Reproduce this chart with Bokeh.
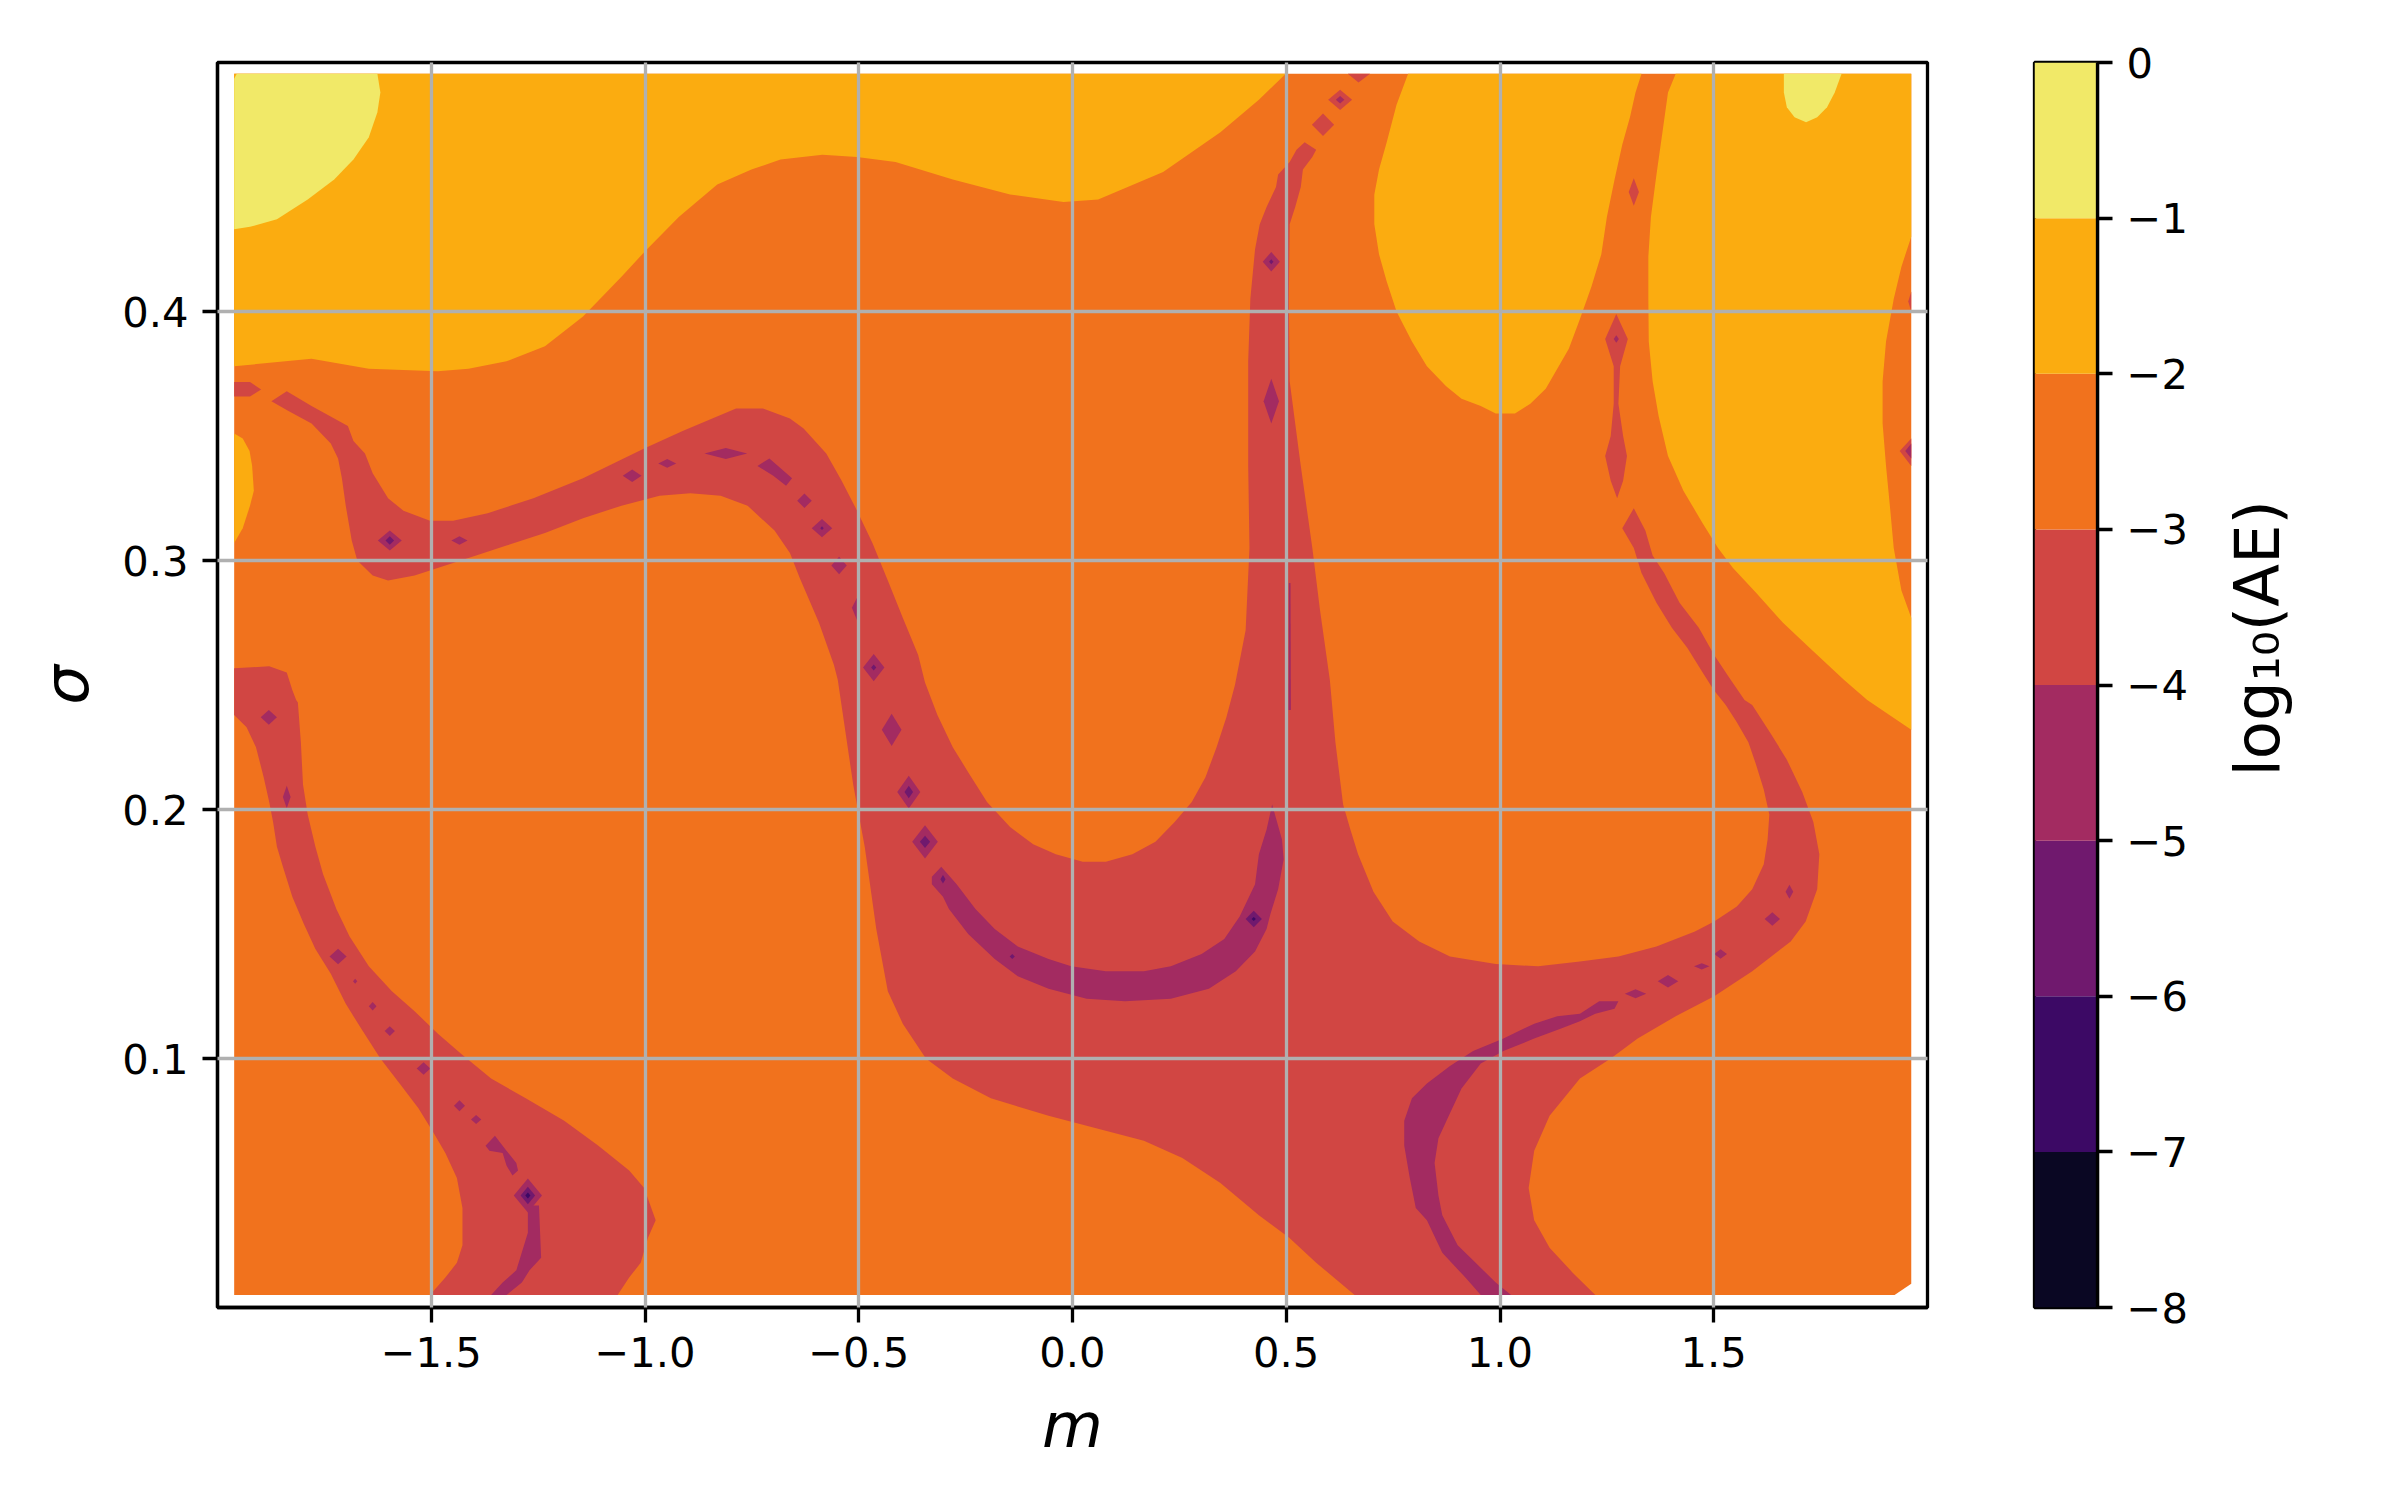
import math
from bokeh.plotting import figure
from bokeh.layouts import row
from bokeh.models import Range1d, FixedTicker, CustomJSTickFormatter
from bokeh.palettes import Inferno256
from bokeh.core.properties import value
from bokeh.embed import file_html
from bokeh.resources import INLINE

# ---------------- data ----------------
levels = [-8, -7, -6, -5, -4, -3, -2, -1, 0]
level_labels = ["\u22128", "\u22127", "\u22126", "\u22125", "\u22124", "\u22123", "\u22122", "\u22121", "0"]
x_ticks = [-1.5, -1.0, -0.5, 0.0, 0.5, 1.0, 1.5]
x_tick_labels = ["\u22121.5", "\u22121.0", "\u22120.5", "0.0", "0.5", "1.0", "1.5"]
y_ticks = [0.1, 0.2, 0.3, 0.4]
y_tick_labels = ["0.1", "0.2", "0.3", "0.4"]
x_label = "m"
y_label = "\u03c3"
cbar_label = "log\u2081\u2080(AE)"
x_limits = (-2.0, 2.0)
y_limits = (0.0, 0.5)

# contour regions of log10(AE) as (m, sigma) vertices
# band -3..-2 : sampled domain
domain = [(-1.961, 0.005), (1.923, 0.005), (1.962, 0.0095), (1.962, 0.4955), (-1.961, 0.4955)]

# band -2..-1
light_top_left = [(-1.961, 0.4955), (0.499, 0.4955), (0.436, 0.485), (0.346, 0.472), (0.212, 0.456),
                  (0.060, 0.445), (-0.021, 0.444), (-0.146, 0.447), (-0.280, 0.453), (-0.414, 0.460),
                  (-0.504, 0.462), (-0.585, 0.463), (-0.683, 0.461), (-0.751, 0.457), (-0.831, 0.451),
                  (-0.921, 0.438), (-1.001, 0.424), (-1.055, 0.414), (-1.145, 0.398), (-1.234, 0.386),
                  (-1.324, 0.380), (-1.413, 0.377), (-1.485, 0.376), (-1.646, 0.377), (-1.780, 0.381),
                  (-1.961, 0.378)]
light_left_edge = [(-1.961, 0.351), (-1.941, 0.349), (-1.925, 0.344), (-1.919, 0.338), (-1.915, 0.328),
                   (-1.924, 0.322), (-1.941, 0.313), (-1.961, 0.307)]
light_tongue = [(0.785, 0.4955), (0.758, 0.483), (0.735, 0.468), (0.717, 0.457), (0.706, 0.447),
                (0.706, 0.435), (0.717, 0.423), (0.735, 0.412), (0.758, 0.400), (0.794, 0.388),
                (0.829, 0.378), (0.874, 0.370), (0.910, 0.365), (0.955, 0.362), (0.990, 0.359),
                (1.035, 0.359), (1.071, 0.363), (1.107, 0.369), (1.134, 0.377), (1.161, 0.385),
                (1.187, 0.397), (1.214, 0.410), (1.237, 0.423), (1.250, 0.438), (1.268, 0.453),
                (1.286, 0.467), (1.304, 0.478), (1.317, 0.488), (1.331, 0.4955)]
light_right = [(1.411, 0.4955), (1.962, 0.4955), (1.962, 0.430), (1.939, 0.418), (1.921, 0.405),
               (1.903, 0.388), (1.895, 0.372), (1.895, 0.355), (1.903, 0.338), (1.912, 0.322),
               (1.921, 0.305), (1.939, 0.288), (1.962, 0.277), (1.962, 0.232), (1.859, 0.244),
               (1.805, 0.252), (1.724, 0.265), (1.662, 0.275), (1.599, 0.287), (1.545, 0.297),
               (1.510, 0.305), (1.474, 0.315), (1.429, 0.328), (1.393, 0.342), (1.371, 0.358),
               (1.357, 0.372), (1.348, 0.388), (1.347, 0.405), (1.347, 0.422), (1.353, 0.438),
               (1.366, 0.455), (1.380, 0.472), (1.393, 0.488)]

# band -1..0
yellow_top_left = [(-1.961, 0.4935), (-1.955, 0.4955), (-1.626, 0.4955), (-1.619, 0.488), (-1.626, 0.480),
                   (-1.646, 0.470), (-1.682, 0.461), (-1.727, 0.453), (-1.789, 0.445), (-1.861, 0.437),
                   (-1.924, 0.434), (-1.961, 0.433)]
yellow_top_right = [(1.664, 0.4955), (1.664, 0.488), (1.671, 0.482), (1.689, 0.478), (1.716, 0.476),
                    (1.742, 0.478), (1.765, 0.482), (1.783, 0.488), (1.799, 0.4955)]

# band -4..-3
red_main = [
    (-1.874, 0.364), (-1.838, 0.368), (-1.780, 0.362), (-1.695, 0.354), (-1.682, 0.348), (-1.655, 0.343),
    (-1.637, 0.335), (-1.601, 0.325), (-1.565, 0.320), (-1.503, 0.316), (-1.449, 0.316), (-1.368, 0.319),
    (-1.261, 0.325), (-1.145, 0.333), (-1.002, 0.345), (-0.912, 0.352), (-0.787, 0.361), (-0.724, 0.361),
    (-0.661, 0.357),
    (-0.629, 0.353), (-0.576, 0.343), (-0.540, 0.332), (-0.504, 0.320), (-0.468, 0.307), (-0.432, 0.292),
    (-0.397, 0.277), (-0.361, 0.262), (-0.345, 0.251),
    (-0.316, 0.238), (-0.280, 0.225), (-0.244, 0.215), (-0.200, 0.203), (-0.146, 0.193), (-0.092, 0.186),
    (-0.039, 0.182), (0.024, 0.179), (0.078, 0.179), (0.140, 0.182), (0.194, 0.187), (0.239, 0.195),
    (0.279, 0.203), (0.311, 0.213), (0.337, 0.225), (0.360, 0.237), (0.380, 0.250),
    (0.405, 0.272), (0.414, 0.305), (0.411, 0.338), (0.411, 0.380), (0.416, 0.405), (0.427, 0.425),
    (0.438, 0.435), (0.454, 0.442), (0.476, 0.450), (0.481, 0.455), (0.508, 0.460), (0.524, 0.465),
    (0.543, 0.468), (0.570, 0.465), (0.561, 0.462), (0.539, 0.457), (0.534, 0.450), (0.521, 0.442),
    (0.508, 0.435), (0.506, 0.405), (0.508, 0.372), (0.534, 0.338), (0.561, 0.305), (0.579, 0.280),
    (0.602, 0.252),
    (0.615, 0.227), (0.633, 0.202), (0.650, 0.192), (0.668, 0.182), (0.704, 0.167), (0.749, 0.155),
    (0.811, 0.147), (0.883, 0.141), (0.990, 0.138), (1.089, 0.137), (1.187, 0.139), (1.277, 0.141),
    (1.366, 0.145), (1.456, 0.151), (1.501, 0.155), (1.554, 0.161), (1.590, 0.168), (1.617, 0.178),
    (1.626, 0.188), (1.630, 0.198), (1.617, 0.208), (1.599, 0.218), (1.581, 0.227), (1.554, 0.235),
    (1.528, 0.242), (1.500, 0.248),
    (1.474, 0.255), (1.438, 0.265), (1.402, 0.273), (1.366, 0.283), (1.331, 0.295), (1.313, 0.305),
    (1.286, 0.313), (1.313, 0.321),
    (1.340, 0.312), (1.357, 0.302), (1.384, 0.295), (1.420, 0.283), (1.465, 0.273), (1.501, 0.262),
    (1.536, 0.253), (1.572, 0.244), (1.590, 0.242), (1.635, 0.230), (1.671, 0.220), (1.707, 0.207),
    (1.733, 0.195), (1.747, 0.182), (1.742, 0.168), (1.715, 0.155), (1.680, 0.147), (1.590, 0.135),
    (1.501, 0.125), (1.411, 0.117), (1.322, 0.108), (1.259, 0.100), (1.187, 0.092), (1.116, 0.077),
    (1.080, 0.063), (1.067, 0.048), (1.080, 0.035), (1.116, 0.024), (1.170, 0.014), (1.223, 0.005),
    (0.660, 0.005),
    (0.570, 0.018), (0.507, 0.028), (0.436, 0.037), (0.346, 0.050), (0.257, 0.060), (0.167, 0.067),
    (0.033, 0.073), (-0.056, 0.077), (-0.191, 0.084), (-0.280, 0.092), (-0.343, 0.100), (-0.397, 0.114),
    (-0.432, 0.127), (-0.459, 0.152), (-0.486, 0.185), (-0.513, 0.210), (-0.549, 0.252),
    (-0.558, 0.258), (-0.593, 0.275), (-0.638, 0.293),
    (-0.661, 0.303), (-0.697, 0.312), (-0.760, 0.322), (-0.823, 0.326), (-0.894, 0.327), (-0.966, 0.326),
    (-1.055, 0.322), (-1.145, 0.317), (-1.234, 0.311), (-1.324, 0.306), (-1.395, 0.302), (-1.485, 0.297),
    (-1.539, 0.294), (-1.601, 0.292), (-1.637, 0.294), (-1.673, 0.300), (-1.686, 0.308), (-1.700, 0.322),
    (-1.709, 0.333), (-1.718, 0.341), (-1.735, 0.347), (-1.780, 0.355), (-1.834, 0.360)]
red_left_stub = [(-1.961, 0.3717), (-1.924, 0.3717), (-1.898, 0.3687), (-1.924, 0.3659), (-1.961, 0.3659)]
red_bottom_left = [
    (-1.961, 0.2567), (-1.879, 0.2575), (-1.838, 0.255), (-1.825, 0.248), (-1.816, 0.244), (-1.812, 0.243),
    (-1.805, 0.227), (-1.800, 0.210), (-1.789, 0.198), (-1.771, 0.185), (-1.753, 0.174), (-1.722, 0.160),
    (-1.691, 0.149), (-1.646, 0.137), (-1.592, 0.127), (-1.539, 0.119), (-1.485, 0.110), (-1.431, 0.102),
    (-1.360, 0.092), (-1.279, 0.084), (-1.189, 0.075), (-1.109, 0.065), (-1.037, 0.055), (-1.002, 0.048),
    (-0.975, 0.035), (-0.993, 0.028), (-1.010, 0.018), (-1.037, 0.012), (-1.064, 0.005), (-1.503, 0.005),
    (-1.467, 0.012), (-1.440, 0.018), (-1.427, 0.025), (-1.427, 0.040), (-1.440, 0.052), (-1.467, 0.062),
    (-1.494, 0.070), (-1.530, 0.080), (-1.574, 0.090), (-1.619, 0.100), (-1.664, 0.112), (-1.700, 0.122),
    (-1.735, 0.134), (-1.771, 0.144), (-1.798, 0.154), (-1.825, 0.165), (-1.847, 0.177), (-1.861, 0.185),
    (-1.870, 0.195), (-1.879, 0.203), (-1.892, 0.213), (-1.910, 0.225), (-1.932, 0.233), (-1.961, 0.238)]
red_chain = [(1.272, 0.399), (1.299, 0.389), (1.281, 0.378), (1.277, 0.363), (1.288, 0.350), (1.297, 0.342),
             (1.288, 0.332), (1.274, 0.325), (1.259, 0.332), (1.246, 0.342), (1.259, 0.350), (1.266, 0.363),
             (1.266, 0.378), (1.246, 0.389)]
red_top_edge = [(0.644, 0.4955), (0.696, 0.4955), (0.669, 0.492)]
red_right_edge = [(1.962, 0.349), (1.935, 0.344), (1.962, 0.338)]
red_right_edge_small = [(1.962, 0.408), (1.955, 0.404), (1.962, 0.400)]
# isolated spots: centre m, centre sigma, half width, half height
red_spots = [(0.586, 0.475, 0.026, 0.0045), (0.626, 0.485, 0.028, 0.0041), (1.313, 0.448, 0.012, 0.0055)]

# band -5..-4
purple_u = [(-0.329, 0.173), (-0.307, 0.177), (-0.271, 0.170), (-0.227, 0.160), (-0.182, 0.152),
            (-0.128, 0.145), (-0.056, 0.140), (-0.003, 0.137), (0.078, 0.135), (0.167, 0.135),
            (0.230, 0.137), (0.302, 0.142), (0.355, 0.148), (0.391, 0.157), (0.427, 0.170),
            (0.436, 0.182), (0.454, 0.192), (0.467, 0.202), (0.490, 0.188), (0.494, 0.180),
            (0.481, 0.168), (0.463, 0.158), (0.454, 0.152), (0.427, 0.143), (0.382, 0.135),
            (0.319, 0.128), (0.230, 0.124), (0.123, 0.123), (0.033, 0.124), (-0.056, 0.128),
            (-0.128, 0.133), (-0.182, 0.140), (-0.244, 0.150), (-0.289, 0.160), (-0.303, 0.165),
            (-0.329, 0.170)]
purple_right = [(0.955, 0.005), (0.919, 0.012), (0.865, 0.022), (0.829, 0.035), (0.803, 0.040),
                (0.789, 0.052), (0.776, 0.065), (0.776, 0.075), (0.794, 0.084), (0.829, 0.090),
                (0.883, 0.097), (0.937, 0.103), (1.008, 0.108), (1.080, 0.114), (1.134, 0.117),
                (1.187, 0.118), (1.232, 0.123), (1.277, 0.123), (1.268, 0.120), (1.223, 0.118),
                (1.187, 0.115), (1.143, 0.112), (1.080, 0.108), (1.008, 0.103), (0.955, 0.098),
                (0.910, 0.088), (0.883, 0.078), (0.856, 0.068), (0.847, 0.058), (0.856, 0.045),
                (0.865, 0.037), (0.892, 0.028), (0.901, 0.025), (0.937, 0.019), (0.990, 0.010),
                (1.026, 0.005)]
purple_blob = [(-1.373, 0.065), (-1.351, 0.069), (-1.324, 0.063), (-1.301, 0.058), (-1.297, 0.055),
               (-1.310, 0.053), (-1.324, 0.057), (-1.333, 0.062), (-1.364, 0.063)]
purple_bottom = [(-1.274, 0.041), (-1.248, 0.041), (-1.243, 0.020), (-1.270, 0.015), (-1.288, 0.010),
                 (-1.324, 0.005), (-1.360, 0.005), (-1.333, 0.010), (-1.301, 0.015), (-1.292, 0.020),
                 (-1.274, 0.030)]
purple_line = [(0.506, 0.291), (0.510, 0.291), (0.511, 0.240), (0.505, 0.240)]
purple_long = [(-0.737, 0.338), (-0.709, 0.341), (-0.656, 0.333), (-0.670, 0.330), (-0.700, 0.334)]
purple_half = [(-0.516, 0.281), (-0.504, 0.285), (-0.504, 0.276)]
purple_right_edge = [(1.962, 0.347), (1.948, 0.344), (1.962, 0.341)]
purple_spots = [
    (-1.597, 0.308, 0.028, 0.0040), (-1.434, 0.308, 0.019, 0.0017), (-1.030, 0.334, 0.022, 0.0025),
    (-0.948, 0.339, 0.021, 0.0018), (-0.811, 0.343, 0.050, 0.0022), (-0.627, 0.324, 0.017, 0.0029),
    (-0.586, 0.313, 0.024, 0.0037), (-0.546, 0.298, 0.018, 0.0035), (-0.465, 0.257, 0.025, 0.0055),
    (-0.423, 0.232, 0.023, 0.0065), (-0.383, 0.207, 0.027, 0.0066), (-0.345, 0.187, 0.030, 0.0067),
    (0.465, 0.420, 0.020, 0.0039), (0.465, 0.364, 0.018, 0.0090), (0.626, 0.485, 0.010, 0.0015),
    (1.272, 0.389, 0.006, 0.0015),
    (-1.880, 0.237, 0.019, 0.0030), (-1.838, 0.205, 0.009, 0.0045), (-1.718, 0.141, 0.020, 0.0031),
    (-1.678, 0.131, 0.005, 0.0010), (-1.637, 0.121, 0.009, 0.0017), (-1.597, 0.111, 0.012, 0.0020),
    (-1.518, 0.096, 0.016, 0.0025), (-1.434, 0.081, 0.013, 0.0022), (-1.395, 0.0755, 0.012, 0.0018),
    (-1.274, 0.045, 0.033, 0.0068),
    (1.317, 0.126, 0.025, 0.0018), (1.393, 0.131, 0.024, 0.0025), (1.472, 0.137, 0.018, 0.0013),
    (1.516, 0.142, 0.015, 0.0019), (1.637, 0.156, 0.018, 0.0027), (1.677, 0.167, 0.009, 0.0028)]

# band -6..-5
dark_spots = [(-1.597, 0.308, 0.010, 0.0017), (-0.586, 0.313, 0.004, 0.0008), (-0.465, 0.257, 0.006, 0.0012),
              (0.465, 0.420, 0.005, 0.0010), (-0.383, 0.207, 0.010, 0.0025), (-0.345, 0.187, 0.012, 0.0025),
              (-0.303, 0.172, 0.006, 0.0017), (-0.141, 0.141, 0.006, 0.0010), (0.424, 0.156, 0.019, 0.0033),
              (-1.274, 0.045, 0.017, 0.0035)]
# band -7..-6
darkest_spots = [(-1.274, 0.045, 0.006, 0.0012), (0.424, 0.156, 0.005, 0.0008)]

# ---------------- build ----------------
band_colors = [Inferno256[int(((lo + hi) / 2 - levels[0]) / (levels[-1] - levels[0]) * 256)]
               for lo, hi in zip(levels[:-1], levels[1:])]


def spot(c):
    cx, cy, hw, hh = c
    return [(cx - hw, cy), (cx, cy + hh), (cx + hw, cy), (cx, cy - hh)]


layers = [
    (-3, [domain]),
    (-2, [light_top_left, light_left_edge, light_tongue, light_right]),
    (-1, [yellow_top_left, yellow_top_right]),
    (-4, [red_main, red_left_stub, red_bottom_left, red_chain, red_top_edge, red_right_edge,
          red_right_edge_small] + [spot(s) for s in red_spots]),
    (-5, [purple_u, purple_right, purple_blob, purple_bottom, purple_line, purple_long, purple_half,
          purple_right_edge] + [spot(s) for s in purple_spots]),
    (-6, [spot(s) for s in dark_spots]),
    (-7, [spot(s) for s in darkest_spots]),
]

FONT = "DejaVu Sans"
TICK_PX = "41.7px"
LABEL_PX = "62.5px"
LW = 3.3
H = 1492


def fmt(tvals, tlabels):
    return CustomJSTickFormatter(args=dict(tvals=tvals, tlabels=tlabels), code="""
        for (let i = 0; i < tvals.length; i++) {
            if (Math.abs(tvals[i] - tick) < 1e-9) { return tlabels[i]; }
        }
        return '';
    """)


def style_axis(ax):
    ax.major_tick_out = 15
    ax.major_tick_in = 0
    ax.minor_tick_out = 0
    ax.minor_tick_in = 0
    ax.major_tick_line_width = LW
    ax.major_tick_line_color = "black"
    ax.axis_line_width = LW
    ax.axis_line_color = "black"
    ax.major_label_text_font = FONT
    ax.major_label_text_font_size = TICK_PX
    ax.major_label_text_color = "black"
    ax.major_label_standoff = 14
    ax.axis_label_text_font = FONT
    ax.axis_label_text_font_size = LABEL_PX
    ax.axis_label_text_font_style = "italic"
    ax.axis_label_text_color = "black"


p = figure(width=1967, height=H, x_range=Range1d(*x_limits), y_range=Range1d(*y_limits),
           output_backend="svg", toolbar_location=None,
           min_border_left=217, min_border_right=40, min_border_top=62, min_border_bottom=185)
p.background_fill_color = "white"
p.border_fill_color = "white"
p.outline_line_color = "black"
p.outline_line_width = LW

for lvl, polys in layers:
    color = band_colors[levels.index(lvl)]
    xs = [[v[0] for v in poly] for poly in polys]
    ys = [[v[1] for v in poly] for poly in polys]
    p.patches(xs=xs, ys=ys, fill_color=color, line_color=None)

p.xaxis.ticker = FixedTicker(ticks=x_ticks)
p.yaxis.ticker = FixedTicker(ticks=y_ticks)
p.xaxis.formatter = fmt(x_ticks, x_tick_labels)
p.yaxis.formatter = fmt(y_ticks, y_tick_labels)
p.xaxis.axis_label = x_label
p.yaxis.axis_label = y_label
style_axis(p.xaxis[0])
style_axis(p.yaxis[0])
p.xaxis.axis_label_standoff = 19
p.yaxis.axis_label_standoff = 16
p.xgrid.ticker = FixedTicker(ticks=x_ticks)
p.ygrid.ticker = FixedTicker(ticks=y_ticks)
p.grid.grid_line_color = "#b0b0b0"
p.grid.grid_line_width = LW
p.grid.level = "overlay"

# colour bar
cb = figure(width=225, height=H, x_range=Range1d(0, 1), y_range=Range1d(levels[0], levels[-1]),
            output_backend="svg", toolbar_location=None, x_axis_location=None, y_axis_location="right",
            min_border_left=67, min_border_right=95, min_border_top=62, min_border_bottom=185)
cb.quad(left=0, right=1, bottom=levels[:-1], top=levels[1:], fill_color=band_colors, line_color=None)
cb.grid.visible = False
cb.outline_line_color = "black"
cb.outline_line_width = LW
cb.yaxis.ticker = FixedTicker(ticks=levels)
cb.yaxis.formatter = fmt(levels, level_labels)
style_axis(cb.yaxis[0])

# colour bar label
lf = figure(width=150, height=H, x_range=Range1d(0, 1), y_range=Range1d(0, 1),
            output_backend="svg", toolbar_location=None, x_axis_location=None, y_axis_location=None,
            min_border=0)
lf.outline_line_color = None
lf.grid.visible = False
lf.text(x=[0.4333], y=[0.5375], text=[cbar_label], angle=math.pi / 2, text_align="center",
        text_baseline="alphabetic", text_font=value(FONT), text_font_size=LABEL_PX, text_color="black")

layout = row(p, cb, lf)
open("out.html", "w").write(file_html(layout, INLINE))
